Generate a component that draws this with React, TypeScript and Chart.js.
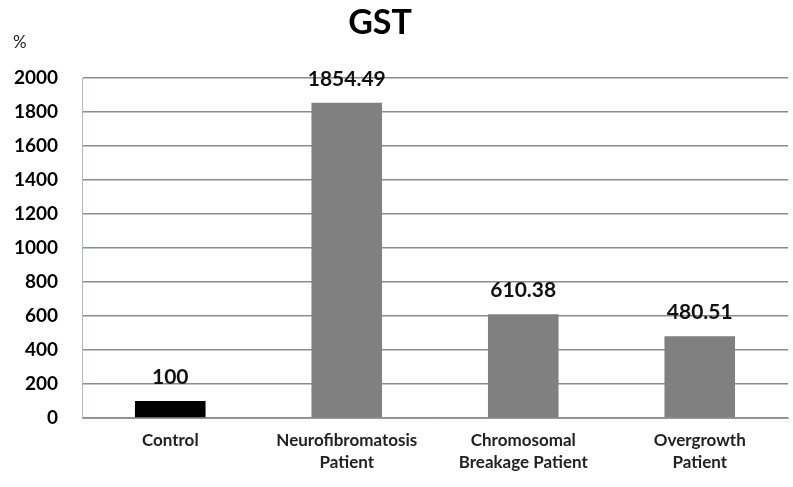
import React, { useEffect, useRef } from "react";
import { Chart, registerables } from "chart.js";

Chart.register(...registerables);

const categories: string[][] = [
  ["Control"],
  ["Neurofibromatosis", "Patient"],
  ["Chromosomal", "Breakage Patient"],
  ["Overgrowth", "Patient"],
];
const values: number[] = [100, 1854.49, 610.38, 480.51];
const valueLabels: string[] = ["100", "1854.49", "610.38", "480.51"];
const barColors: string[] = ["#000000", "#808080", "#808080", "#808080"];
const chartTitle = "GST";
const yUnit = "%";
const yMin = 0;
const yMax = 2000;
const yStep = 200;

const FONT = "Lato, 'Open Sans', sans-serif";

const labelsPlugin = {
  id: "customLabels",
  afterDatasetsDraw(chart: any) {
    const ctx = chart.ctx;
    const meta = chart.getDatasetMeta(0);
    ctx.save();
    ctx.fillStyle = "#111";
    ctx.font = `bold 21px ${FONT}`;
    ctx.textAlign = "center";
    ctx.textBaseline = "middle";
    meta.data.forEach((bar: any, i: number) => {
      ctx.fillText(valueLabels[i], bar.x, bar.y - 24);
    });
    // title
    ctx.font = `bold 34px ${FONT}`;
    ctx.fillStyle = "#000";
    ctx.fillText(chartTitle, 380, 23);
    // unit
    ctx.font = `17px ${FONT}`;
    ctx.textAlign = "left";
    ctx.fillStyle = "#222";
    ctx.fillText(yUnit, 13, 43);
    ctx.restore();
  },
};

export default function App() {
  const ref = useRef<HTMLCanvasElement | null>(null);
  useEffect(() => {
    document.body.style.margin = "0";
    const chart = new Chart(ref.current as HTMLCanvasElement, {
      type: "bar",
      data: {
        labels: categories as any,
        datasets: [
          {
            data: values,
            backgroundColor: barColors,
            barPercentage: 0.4,
            categoryPercentage: 1,
          },
        ],
      },
      options: {
        animation: false,
        responsive: false,
        layout: { padding: { top: 78, right: 5, left: 0, bottom: 0 } },
        plugins: { legend: { display: false }, title: { display: false }, tooltip: { enabled: false } },
        scales: {
          x: {
            grid: { display: false },
            border: { display: true, color: "#999", width: 1 },
            ticks: {
              color: "#222",
              font: { family: FONT, size: 17, weight: "bold", lineHeight: 1.3 },
              padding: 3,
              maxRotation: 0,
              autoSkip: false,
            },
            afterFit: (scale: any) => {
              scale.height = 69;
            },
          },
          y: {
            min: yMin,
            max: yMax,
            grid: { color: "#8c8c8c", lineWidth: 1.5, drawTicks: false },
            border: { display: true, color: "#a9bccd", width: 1 },
            ticks: {
              stepSize: yStep,
              color: "#000",
              font: { family: FONT, size: 19, weight: "bold" },
              padding: 24,
              callback: (v: any) => String(v),
            },
            afterFit: (scale: any) => {
              scale.width = 82;
            },
          },
        },
      },
      plugins: [labelsPlugin],
    });
    return () => chart.destroy();
  }, []);
  return (
    <div style={{ position: "absolute", left: 0, top: 0, width: 793, height: 487 }}>
      <canvas ref={ref} width={793} height={487} />
    </div>
  );
}
